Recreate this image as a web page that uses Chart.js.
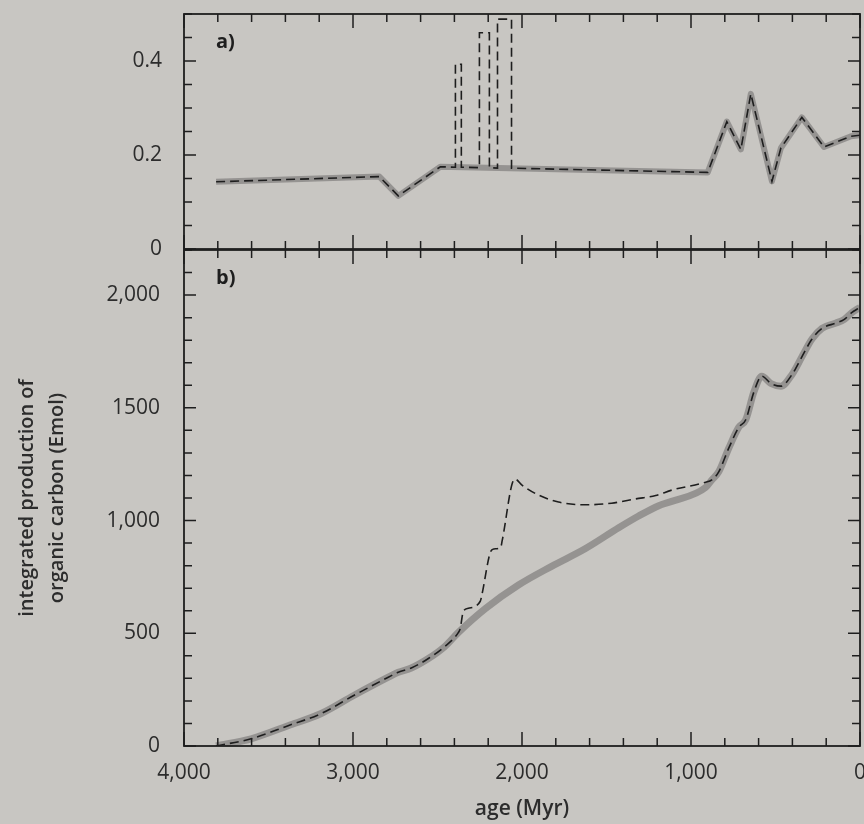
<!DOCTYPE html>
<html>
<head>
<meta charset="utf-8">
<script src="https://cdn.jsdelivr.net/npm/chart.js@4.4.0/dist/chart.umd.min.js"></script>
<style>
  html, body { margin: 0; padding: 0; background: #c8c6c2; }
  #wrap { position: relative; width: 864px; height: 824px; overflow: hidden; background: #c8c6c2; }
  #panelA { position: absolute; left: 0; top: 0; }
  #panelB { position: absolute; left: 0; top: 248px; }
</style>
</head>
<body>
<div id="wrap">
  <canvas id="panelA" width="864" height="262"></canvas>
  <canvas id="panelB" width="864" height="576"></canvas>
</div>
<script>
// --- Data (age in Myr) ---
// a) production rate, grey model line
const ageA = [3810, 2844, 2732, 2483, 901, 788, 705, 646, 521, 468, 344, 213, 53, 0];
const prodA = [0.143, 0.154, 0.113, 0.175, 0.163, 0.271, 0.212, 0.330, 0.144, 0.215, 0.280, 0.217, 0.240, 0.242];
// a) dashed line with the three pulses
const ageAdash = [3810, 2844, 2732, 2483, 2394, 2394, 2359, 2359, 2252, 2252, 2193, 2193, 2145, 2145, 2062, 2062, 901, 788, 705, 646, 521, 468, 344, 213, 53, 0];
const prodAdash = [0.143, 0.154, 0.113, 0.175, 0.174, 0.393, 0.393, 0.174, 0.173, 0.460, 0.460, 0.173, 0.172, 0.489, 0.489, 0.172, 0.163, 0.271, 0.212, 0.330, 0.144, 0.215, 0.280, 0.217, 0.240, 0.242];

// b) integrated production of organic carbon (Emol), grey line
const ageB = [3810, 3603, 3384, 3188, 2993, 2791, 2732, 2655, 2554, 2459, 2376, 2216, 2021, 1825, 1624, 1428, 1310, 1191, 1114, 913, 877, 836, 776, 717, 676, 628, 581, 527, 468, 403, 344, 284, 225, 142, 95, 47, 18, 0];
const carbB = [0, 32, 90, 144, 225, 305, 327, 346, 388, 440, 504, 610, 714, 797, 876, 968, 1020, 1066, 1085, 1147, 1180, 1216, 1322, 1414, 1447, 1570, 1640, 1608, 1596, 1647, 1726, 1805, 1852, 1876, 1891, 1923, 1937, 1945];
// b) dashed line
const ageBdash = [3810, 3603, 3384, 3188, 2993, 2791, 2732, 2655, 2554, 2459, 2376, 2366, 2347, 2317, 2247, 2237, 2187, 2167, 2127, 2117, 2050, 2040, 2000, 1902, 1784, 1624, 1470, 1327, 1209, 1114, 913, 877, 836, 776, 717, 676, 628, 581, 527, 468, 403, 344, 284, 225, 142, 95, 47, 18, 0];
const carbBdash = [0, 32, 90, 144, 225, 305, 327, 346, 388, 440, 504, 520, 597, 611, 642, 672, 860, 874, 879, 912, 1179, 1183, 1157, 1113, 1082, 1070, 1077, 1096, 1111, 1135, 1170, 1180, 1216, 1322, 1414, 1447, 1570, 1640, 1608, 1596, 1647, 1726, 1805, 1852, 1876, 1891, 1923, 1937, 1945];

// --- Ticks / labels ---
const xTicks = [4000, 3000, 2000, 1000, 0];
const xLabels = ["4,000", "3,000", "2,000", "1,000", "0"];
const yTicksA = [0, 0.2, 0.4];
const yLabelsA = ["0", "0.2", "0.4"];
const yTicksB = [0, 500, 1000, 1500, 2000];
const yLabelsB = ["0", "500", "1,000", "1500", "2,000"];

// --- Styles ---
const INK = "#1e1e1e";
const TEXT = "#2c2c2c";
const GREY = "rgba(140,138,136,0.85)";
const FONT = "'Open Sans', 'Noto Sans', sans-serif";

const pts = (xs, ys) => xs.map((x, i) => ({ x, y: ys[i] }));

// keep chart areas fixed: no extra room for half tick labels
function fixY(s) {
    s.width = 184;
    s.paddingTop = 0;
    s.paddingBottom = 0;
}
function fixX(s) {
    s.height = 78;
    s.paddingLeft = 0;
    s.paddingRight = 0;
}

// inward tick marks + box, drawn through the chart scales
function framePlugin(yMinorStep, yMajorStep, yMax, tag) {
    return {
        id: "frame" + tag,
        afterDatasetsDraw(chart) {
            const { ctx, chartArea: a, scales: { x, y } } = chart;
            ctx.save();
            ctx.strokeStyle = INK;
            ctx.lineWidth = 1.8;
            ctx.strokeRect(a.left, a.top, a.right - a.left, a.bottom - a.top);

            ctx.lineWidth = 1.5;
            ctx.beginPath();
            for (let v = 0; v <= 4000; v += 200) {
                const px = x.getPixelForValue(v);
                const len = v % 1000 === 0 ? 14 : 8;
                ctx.moveTo(px, a.top); ctx.lineTo(px, a.top + len);
                ctx.moveTo(px, a.bottom); ctx.lineTo(px, a.bottom - len);
            }
            const n = Math.round(yMax / yMinorStep);
            for (let i = 0; i <= n; i++) {
                const v = i * yMinorStep;
                const py = y.getPixelForValue(v);
                const major = Math.abs(v / yMajorStep - Math.round(v / yMajorStep)) < 1e-6;
                const len = major ? 12 : 8;
                ctx.moveTo(a.left, py); ctx.lineTo(a.left + len, py);
                ctx.moveTo(a.right, py); ctx.lineTo(a.right - len, py);
            }
            ctx.stroke();

            ctx.fillStyle = INK;
            ctx.font = "bold 20px " + FONT;
            ctx.textBaseline = "alphabetic";
            ctx.fillText(tag + ")", a.left + 32, a.top + 34);
            ctx.restore();
        }
    };
}

const tickFont = { family: FONT, size: 21 };

// --- Panel a ---
new Chart(document.getElementById("panelA").getContext("2d"), {
    type: "line",
    data: {
        datasets: [
            {
                data: pts(ageAdash, prodAdash),
                borderColor: INK, borderWidth: 1.6, borderDash: [9, 5],
                pointRadius: 0, tension: 0, fill: false
            },
            {
                data: pts(ageA, prodA),
                borderColor: GREY, borderWidth: 6, borderJoinStyle: "round",
                pointRadius: 0, tension: 0, fill: false
            }
        ]
    },
    options: {
        responsive: false,
        animation: false,
        layout: { padding: { top: 14, right: 4, bottom: 13, left: 0 } },
        plugins: { legend: { display: false }, tooltip: { enabled: false } },
        scales: {
            x: { type: "linear", min: 0, max: 4000, reverse: true, display: false },
            y: {
                type: "linear", min: 0, max: 0.5,
                afterFit: fixY,
                afterBuildTicks(s) { s.ticks = yTicksA.map(v => ({ value: v })); },
                ticks: {
                    font: tickFont, color: TEXT, padding: 14,
                    callback: v => yLabelsA[yTicksA.indexOf(v)]
                },
                grid: { display: false },
                border: { display: false }
            }
        }
    },
    plugins: [framePlugin(0.05, 0.2, 0.5, "a")]
});

// --- Panel b ---
new Chart(document.getElementById("panelB").getContext("2d"), {
    type: "line",
    data: {
        datasets: [
            {
                data: pts(ageBdash, carbBdash),
                borderColor: INK, borderWidth: 1.6, borderDash: [9, 5],
                pointRadius: 0, cubicInterpolationMode: "monotone", fill: false
            },
            {
                data: pts(ageB, carbB),
                borderColor: GREY, borderWidth: 7,
                pointRadius: 0, cubicInterpolationMode: "monotone", fill: false
            }
        ]
    },
    options: {
        responsive: false,
        animation: false,
        layout: { padding: { top: 2, right: 4, bottom: 0, left: 0 } },
        plugins: { legend: { display: false }, tooltip: { enabled: false } },
        scales: {
            x: {
                type: "linear", min: 0, max: 4000, reverse: true,
                afterFit: fixX,
                afterBuildTicks(s) { s.ticks = xTicks.map(v => ({ value: v })); },
                ticks: {
                    font: tickFont, color: TEXT, padding: 6, maxRotation: 0, autoSkip: false,
                    callback: v => xLabels[xTicks.indexOf(v)]
                },
                title: {
                    display: true, text: "age (Myr)", color: TEXT,
                    font: { family: FONT, size: 21, weight: "600" },
                    padding: { top: 0, bottom: 2 }
                },
                grid: { display: false },
                border: { display: false }
            },
            y: {
                type: "linear", min: 0, max: 2200,
                afterFit: fixY,
                afterBuildTicks(s) { s.ticks = yTicksB.map(v => ({ value: v })); },
                ticks: {
                    font: tickFont, color: TEXT, padding: 16,
                    callback: v => yLabelsB[yTicksB.indexOf(v)]
                },
                title: {
                    display: true,
                    text: ["integrated production of", "organic carbon (Emol)"],
                    color: TEXT,
                    font: { family: FONT, size: 20, weight: "600", lineHeight: 1.5 },
                    padding: { top: 12, bottom: 0 }
                },
                grid: { display: false },
                border: { display: false }
            }
        }
    },
    plugins: [framePlugin(100, 500, 2200, "b")]
});
</script>
</body>
</html>
